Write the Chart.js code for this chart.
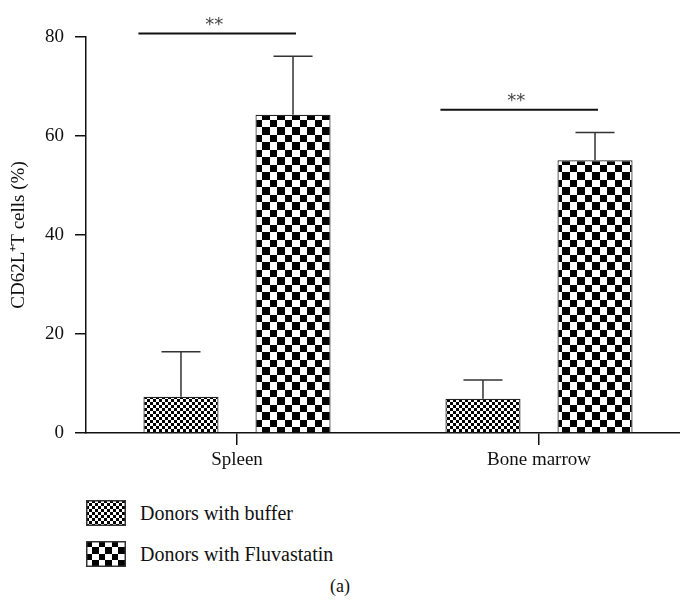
<!DOCTYPE html>
<html><head><meta charset="utf-8">
<script src="https://cdn.jsdelivr.net/npm/chart.js@4"></script>
<style>
html,body{margin:0;padding:0;background:#fff;width:680px;height:608px;overflow:hidden;position:relative;}
#wrap{position:absolute;left:0;top:0;width:690px;height:480px;}
.leg{position:absolute;left:86px;display:flex;align-items:center;font-family:"Liberation Serif",serif;font-size:20px;color:#111;}
.leg canvas{width:40px;height:26px;margin-right:14px;}
#cap{position:absolute;top:576px;left:0;width:680px;text-align:center;font-family:"Liberation Serif",serif;font-size:18px;color:#111;}
</style></head><body>
<div id="wrap"><canvas id="c"></canvas></div>
<div class="leg" style="top:500px"><canvas id="s0" width="40" height="26"></canvas><span id="l0"></span></div>
<div class="leg" style="top:541px"><canvas id="s1" width="40" height="26"></canvas><span id="l1"></span></div>
<div id="cap">(a)</div>
<script>
const categories = ['Spleen', 'Bone marrow'];
const seriesNames = ['Donors with buffer', 'Donors with Fluvastatin'];
const bufferValues = [7.3, 6.9];
const bufferErrors = [9.1, 3.8];
const fluvaValues = [64.3, 55.1];
const fluvaErrors = [11.8, 5.6];
const sigLabels = ['**', '**'];
const yTicks = [0, 20, 40, 60, 80];
const yTitle = 'CD62L\u207AT cells (%)';

function checker(cell) {
  const c = document.createElement('canvas');
  const n = Math.round(cell * 2);
  c.width = n; c.height = n;
  const g = c.getContext('2d');
  g.fillStyle = '#fff'; g.fillRect(0, 0, n, n);
  g.fillStyle = '#000';
  const a = Math.floor(n / 2);
  g.fillRect(0, 0, a, a);
  g.fillRect(a, a, n - a, n - a);
  return c;
}
const ctxMain = document.getElementById('c').getContext('2d');
const patBuffer = ctxMain.createPattern(checker(3), 'repeat');
const patFluva = ctxMain.createPattern(checker(7.5), 'repeat');

function swatch(id, cell) {
  const cv = document.getElementById(id);
  const g = cv.getContext('2d');
  g.fillStyle = g.createPattern(checker(cell), 'repeat');
  g.fillRect(0, 0, cv.width, cv.height);
  g.strokeStyle = '#333'; g.lineWidth = 1.5;
  g.strokeRect(0.75, 0.75, cv.width - 1.5, cv.height - 1.5);
}
swatch('s0', 3);
swatch('s1', 6.5);
document.getElementById('l0').textContent = seriesNames[0];
document.getElementById('l1').textContent = seriesNames[1];

const errPlugin = {
  id: 'err',
  afterDatasetsDraw(chart) {
    const ctx = chart.ctx, y = chart.scales.y;
    [bufferErrors, fluvaErrors].forEach((errs, di) => {
      const meta = chart.getDatasetMeta(di);
      const vals = chart.data.datasets[di].data;
      meta.data.forEach((bar, i) => {
        const top = y.getPixelForValue(vals[i] + errs[i]);
        const half = bar.width * 0.26;
        ctx.save();
        ctx.strokeStyle = '#333'; ctx.lineWidth = 1.5;
        ctx.beginPath();
        ctx.moveTo(bar.x, bar.y); ctx.lineTo(bar.x, top);
        ctx.moveTo(bar.x - half, top); ctx.lineTo(bar.x + half, top);
        ctx.stroke();
        ctx.restore();
      });
    });
  }
};
const sigPlugin = {
  id: 'sig',
  afterDraw(chart) {
    const ctx = chart.ctx, y = chart.scales.y;
    const m0 = chart.getDatasetMeta(0), m1 = chart.getDatasetMeta(1);
    sigLabels.forEach((lab, i) => {
      const b0 = m0.data[i], b1 = m1.data[i];
      const x1 = b0.x - b0.width / 2 - 5, x2 = b1.x + 3;
      const ly = y.getPixelForValue(fluvaValues[i] + fluvaErrors[i] + 4.6);
      ctx.save();
      ctx.strokeStyle = '#111'; ctx.lineWidth = 2;
      ctx.beginPath(); ctx.moveTo(x1, ly); ctx.lineTo(x2, ly); ctx.stroke();
      ctx.fillStyle = '#444';
      ctx.font = '18px "DejaVu Sans"';
      ctx.textAlign = 'center'; ctx.textBaseline = 'alphabetic';
      ctx.fillText(lab, (x1 + x2) / 2 - 3, ly - 4);
      ctx.restore();
    });
  }
};

Chart.defaults.font.family = "'Liberation Serif', serif";
Chart.defaults.color = '#111';

new Chart(ctxMain, {
  type: 'bar',
  data: {
    labels: categories,
    datasets: [
      { label: seriesNames[0], data: bufferValues, backgroundColor: patBuffer, borderColor: '#222', borderWidth: 1.2 },
      { label: seriesNames[1], data: fluvaValues, backgroundColor: patFluva, borderColor: '#222', borderWidth: 1.2 }
    ]
  },
  options: {
    responsive: true,
    maintainAspectRatio: false,
    animation: false,
    categoryPercentage: 0.742,
    barPercentage: 0.67,
    layout: { padding: { top: 37, right: 0, bottom: 0, left: 0 } },
    plugins: { legend: { display: false }, tooltip: { enabled: false } },
    scales: {
      x: {
        type: 'category',
        offset: true,
        grid: { display: true, drawOnChartArea: false, offset: false, tickLength: 12, color: '#111', lineWidth: 1.5 },
        border: { display: true, color: '#111', width: 1.5 },
        ticks: { font: { size: 19 }, color: '#111', padding: 4 },
        afterFit(s) { s.height = 47; }
      },
      y: {
        min: 0, max: 80,
        afterBuildTicks(s) { s.ticks = yTicks.map(v => ({ value: v })); },
        grid: { display: true, drawOnChartArea: false, tickLength: 11, color: '#111', lineWidth: 1.5 },
        border: { display: true, color: '#111', width: 1.5 },
        ticks: { font: { size: 19 }, color: '#111', padding: 11 },
        title: { display: true, text: yTitle, font: { size: 19 }, color: '#111', padding: { top: 8, bottom: 0 } },
        afterFit(s) { s.width = 86; }
      }
    }
  },
  plugins: [errPlugin, sigPlugin]
});
</script>
</body></html>
